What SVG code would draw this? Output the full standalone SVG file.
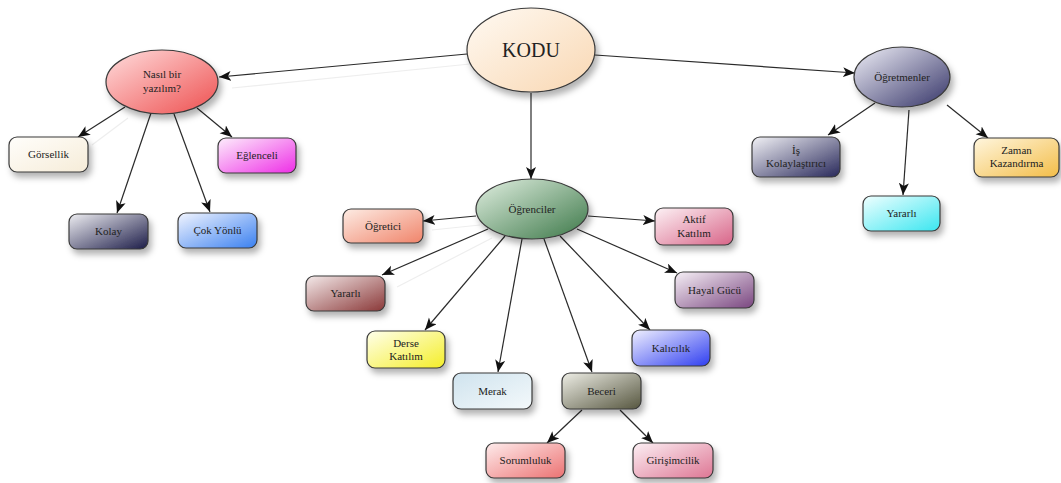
<svg xmlns="http://www.w3.org/2000/svg" width="1061" height="483" viewBox="0 0 1061 483" font-family="Liberation Serif, DejaVu Serif, Times New Roman, serif">
<style>
.n{stroke:#3a3a3a;stroke-width:1.2}
.t{font-size:11px;fill:#222;text-anchor:middle}
.c line{stroke:#2a2a2a;stroke-width:1.2;marker-end:url(#ah)}
.g line{stroke:#eeeeee;stroke-width:1.2}
</style>
<defs>
<filter id="sh" x="-30%" y="-30%" width="160%" height="170%"><feDropShadow dx="3" dy="5" stdDeviation="3" flood-color="#000" flood-opacity="0.3"/></filter>
<marker id="ah" markerUnits="userSpaceOnUse" markerWidth="14" markerHeight="12" refX="12" refY="5" orient="auto"><path d="M0,0 L12,5 L0,10 L3,5 z" fill="#111"/></marker>
<linearGradient id="gKodu" x1="0" y1="0" x2="1" y2="1"><stop offset="0" stop-color="#fffaf3"/><stop offset="1" stop-color="#f9d7b2"/></linearGradient>
<linearGradient id="gNasil" x1="0" y1="0" x2="1" y2="1"><stop offset="0" stop-color="#ffdede"/><stop offset="1" stop-color="#ee4f4f"/></linearGradient>
<linearGradient id="gOgrt" x1="0" y1="0" x2="1" y2="1"><stop offset="0" stop-color="#f0f0f8"/><stop offset="1" stop-color="#353468"/></linearGradient>
<linearGradient id="gOgrc" x1="0" y1="0" x2="1" y2="1"><stop offset="0" stop-color="#e2f0e2"/><stop offset="1" stop-color="#3c7848"/></linearGradient>
<linearGradient id="gGor" x1="0" y1="0" x2="1" y2="1"><stop offset="0" stop-color="#fffefb"/><stop offset="1" stop-color="#f6ecd8"/></linearGradient>
<linearGradient id="gEgl" x1="0" y1="0" x2="1" y2="1"><stop offset="0" stop-color="#fdeefc"/><stop offset="1" stop-color="#ee2ee6"/></linearGradient>
<linearGradient id="gKol" x1="0" y1="0" x2="1" y2="1"><stop offset="0" stop-color="#eeeef2"/><stop offset="1" stop-color="#1c1c48"/></linearGradient>
<linearGradient id="gCok" x1="0" y1="0" x2="1" y2="1"><stop offset="0" stop-color="#f2f5ff"/><stop offset="1" stop-color="#3a80f0"/></linearGradient>
<linearGradient id="gOgi" x1="0" y1="0" x2="1" y2="1"><stop offset="0" stop-color="#fdece4"/><stop offset="1" stop-color="#f0846a"/></linearGradient>
<linearGradient id="gAkt" x1="0" y1="0" x2="1" y2="1"><stop offset="0" stop-color="#fdf2f5"/><stop offset="1" stop-color="#d86488"/></linearGradient>
<linearGradient id="gYar1" x1="0" y1="0" x2="1" y2="1"><stop offset="0" stop-color="#f4eaea"/><stop offset="1" stop-color="#8a3838"/></linearGradient>
<linearGradient id="gHay" x1="0" y1="0" x2="1" y2="1"><stop offset="0" stop-color="#f6f0f6"/><stop offset="1" stop-color="#7a4680"/></linearGradient>
<linearGradient id="gDer" x1="0" y1="0" x2="1" y2="1"><stop offset="0" stop-color="#ffffec"/><stop offset="1" stop-color="#f4ee28"/></linearGradient>
<linearGradient id="gKal" x1="0" y1="0" x2="1" y2="1"><stop offset="0" stop-color="#f0f0ff"/><stop offset="1" stop-color="#2f3ef0"/></linearGradient>
<linearGradient id="gMer" x1="0" y1="0" x2="1" y2="1"><stop offset="0" stop-color="#cfe3ee"/><stop offset="1" stop-color="#f4f9fb"/></linearGradient>
<linearGradient id="gBec" x1="0" y1="0" x2="1" y2="1"><stop offset="0" stop-color="#eeeee6"/><stop offset="1" stop-color="#56563f"/></linearGradient>
<linearGradient id="gSor" x1="0" y1="0" x2="1" y2="1"><stop offset="0" stop-color="#feecec"/><stop offset="1" stop-color="#ec7272"/></linearGradient>
<linearGradient id="gGir" x1="0" y1="0" x2="1" y2="1"><stop offset="0" stop-color="#fcf0f4"/><stop offset="1" stop-color="#de7694"/></linearGradient>
<linearGradient id="gIs" x1="0" y1="0" x2="1" y2="1"><stop offset="0" stop-color="#f2f2f6"/><stop offset="1" stop-color="#28285a"/></linearGradient>
<linearGradient id="gZam" x1="0" y1="0" x2="1" y2="1"><stop offset="0" stop-color="#fff6de"/><stop offset="1" stop-color="#f3bd48"/></linearGradient>
<linearGradient id="gYar2" x1="0" y1="0" x2="1" y2="1"><stop offset="0" stop-color="#f0ffff"/><stop offset="1" stop-color="#3ae6f0"/></linearGradient>
</defs>
<rect width="1061" height="483" fill="#ffffff"/>

<g id="ghosts" class="g">
<line x1="470" y1="64" x2="232" y2="88"/>
<line x1="128" y1="118" x2="92" y2="145"/>
<line x1="480" y1="225" x2="432" y2="230"/>
<line x1="492" y1="238" x2="397" y2="287"/>
</g>

<g id="connectors" class="c">
<line x1="467" y1="54" x2="219" y2="77"/>
<line x1="595" y1="55" x2="855" y2="73"/>
<line x1="531" y1="93" x2="531" y2="179"/>
<line x1="125" y1="107" x2="78" y2="137"/>
<line x1="151" y1="113" x2="117" y2="213"/>
<line x1="174" y1="114" x2="210" y2="212"/>
<line x1="197" y1="108" x2="232" y2="137"/>
<line x1="476" y1="216" x2="423" y2="221"/>
<line x1="588" y1="216" x2="655" y2="221"/>
<line x1="488" y1="229" x2="382" y2="275"/>
<line x1="505" y1="236" x2="425" y2="330"/>
<line x1="522" y1="239" x2="498" y2="372"/>
<line x1="544" y1="239" x2="592" y2="372"/>
<line x1="560" y1="236" x2="650" y2="330"/>
<line x1="577" y1="229" x2="677" y2="273"/>
<line x1="582" y1="410" x2="547" y2="443"/>
<line x1="620" y1="410" x2="653" y2="443"/>
<line x1="875" y1="103" x2="828" y2="135"/>
<line x1="909" y1="110" x2="903" y2="195"/>
<line x1="947" y1="105" x2="988" y2="138"/>
</g>

<g id="kodu"><ellipse class="n" cx="531" cy="50" rx="64" ry="42" fill="url(#gKodu)" filter="url(#sh)"/><text class="t" x="531" y="57" style="font-size:20px">KODU</text></g>
<g id="nasil"><ellipse class="n" cx="162" cy="82" rx="56" ry="32" fill="url(#gNasil)" filter="url(#sh)"/><text class="t" x="162" y="78">Nasıl bir</text><text class="t" x="162" y="92">yazılım?</text></g>
<g id="ogretmenler"><ellipse class="n" cx="902" cy="77" rx="48" ry="30" fill="url(#gOgrt)" filter="url(#sh)"/><text class="t" x="902" y="81">Öğretmenler</text></g>
<g id="ogrenciler"><ellipse class="n" cx="532" cy="209" rx="56" ry="30" fill="url(#gOgrc)" filter="url(#sh)"/><text class="t" x="532" y="213">Öğrenciler</text></g>

<g id="gorsellik"><rect class="n" x="9" y="137" width="79" height="35" rx="8" fill="url(#gGor)" filter="url(#sh)"/><text class="t" x="48.5" y="158">Görsellik</text></g>
<g id="eglenceli"><rect class="n" x="218" y="138" width="78" height="35" rx="8" fill="url(#gEgl)" filter="url(#sh)"/><text class="t" x="257" y="159">Eğlenceli</text></g>
<g id="kolay"><rect class="n" x="69" y="214" width="79" height="35" rx="8" fill="url(#gKol)" filter="url(#sh)"/><text class="t" x="108.5" y="235">Kolay</text></g>
<g id="cokyonlu"><rect class="n" x="178" y="213" width="79" height="35" rx="8" fill="url(#gCok)" filter="url(#sh)"/><text class="t" x="217.5" y="234">Çok Yönlü</text></g>

<g id="ogretici"><rect class="n" x="343" y="209" width="80" height="34" rx="8" fill="url(#gOgi)" filter="url(#sh)"/><text class="t" x="383" y="230">Öğretici</text></g>
<g id="aktif"><rect class="n" x="655" y="208" width="78" height="37" rx="8" fill="url(#gAkt)" filter="url(#sh)"/><text class="t" x="694" y="223">Aktif</text><text class="t" x="694" y="237">Katılım</text></g>
<g id="yararli1"><rect class="n" x="306" y="276" width="79" height="35" rx="8" fill="url(#gYar1)" filter="url(#sh)"/><text class="t" x="345.5" y="297">Yararlı</text></g>
<g id="hayal"><rect class="n" x="675" y="272" width="79" height="36" rx="8" fill="url(#gHay)" filter="url(#sh)"/><text class="t" x="714.5" y="294">Hayal Gücü</text></g>
<g id="derse"><rect class="n" x="367" y="331" width="78" height="37" rx="8" fill="url(#gDer)" filter="url(#sh)"/><text class="t" x="406" y="347">Derse</text><text class="t" x="406" y="360">Katılım</text></g>
<g id="kalicilik"><rect class="n" x="632" y="330" width="78" height="36" rx="8" fill="url(#gKal)" filter="url(#sh)"/><text class="t" x="671" y="352">Kalıcılık</text></g>
<g id="merak"><rect class="n" x="453" y="373" width="79" height="36" rx="8" fill="url(#gMer)" filter="url(#sh)"/><text class="t" x="492.5" y="395">Merak</text></g>
<g id="beceri"><rect class="n" x="562" y="373" width="79" height="36" rx="8" fill="url(#gBec)" filter="url(#sh)"/><text class="t" x="601.5" y="395">Beceri</text></g>
<g id="sorumluluk"><rect class="n" x="486" y="443" width="79" height="35" rx="8" fill="url(#gSor)" filter="url(#sh)"/><text class="t" x="525.5" y="464">Sorumluluk</text></g>
<g id="girisimcilik"><rect class="n" x="633" y="443" width="80" height="35" rx="8" fill="url(#gGir)" filter="url(#sh)"/><text class="t" x="673" y="464">Girişimcilik</text></g>

<g id="iskolay"><rect class="n" x="752" y="137" width="88" height="40" rx="8" fill="url(#gIs)" filter="url(#sh)"/><text class="t" x="796" y="154">İş</text><text class="t" x="796" y="167">Kolaylaştırıcı</text></g>
<g id="zaman"><rect class="n" x="974" y="138" width="85" height="39" rx="8" fill="url(#gZam)" filter="url(#sh)"/><text class="t" x="1016.5" y="154">Zaman</text><text class="t" x="1016.5" y="167">Kazandırma</text></g>
<g id="yararli2"><rect class="n" x="863" y="196" width="77" height="35" rx="8" fill="url(#gYar2)" filter="url(#sh)"/><text class="t" x="901.5" y="217">Yararlı</text></g>
</svg>
